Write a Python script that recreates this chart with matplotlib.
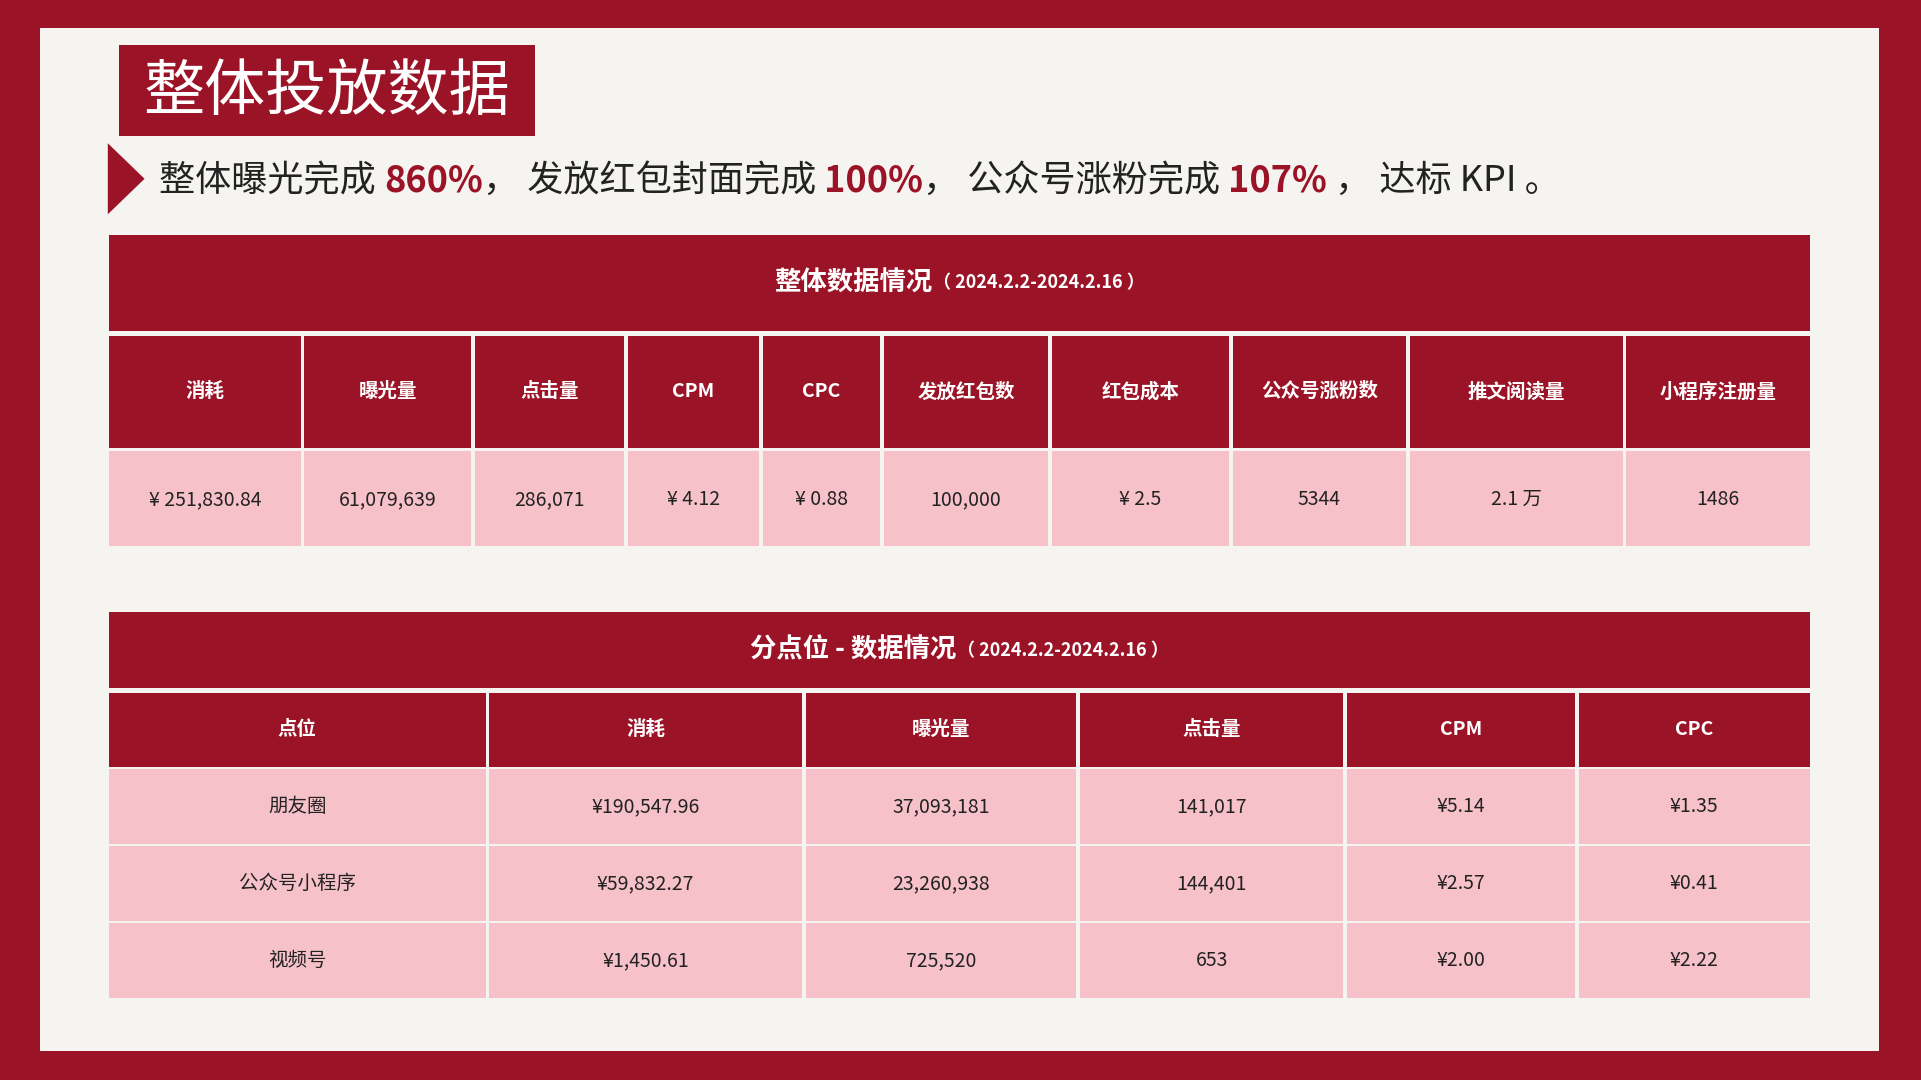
import matplotlib
matplotlib.use("Agg")
import matplotlib.pyplot as plt
from matplotlib.patches import Rectangle, Polygon

plt.rcParams['font.family'] = ['Noto Sans CJK SC', 'DejaVu Sans']

RED = '#9B1326'
PINK = '#F7C1C9'
BG = '#F6F4F0'

title = "整体投放数据"
sub_parts = [("整体曝光完成 ", False), ("860%", True), ("， 发放红包封面完成 ", False), ("100%", True),
             ("， 公众号涨粉完成 ", False), ("107%", True), (" ， 达标 KPI 。", False)]

t1_title = "整体数据情况"
t1_date = "（ 2024.2.2-2024.2.16 ）"
t1_cols = ["消耗", "曝光量", "点击量", "CPM", "CPC", "发放红包数", "红包成本", "公众号涨粉数", "推文阅读量", "小程序注册量"]
t1_vals = ["¥ 251,830.84", "61,079,639", "286,071", "¥ 4.12", "¥ 0.88", "100,000", "¥ 2.5", "5344", "2.1 万", "1486"]

t2_title = "分点位 - 数据情况"
t2_date = "（ 2024.2.2-2024.2.16 ）"
t2_cols = ["点位", "消耗", "曝光量", "点击量", "CPM", "CPC"]
t2_rows = [["朋友圈", "¥190,547.96", "37,093,181", "141,017", "¥5.14", "¥1.35"],
           ["公众号小程序", "¥59,832.27", "23,260,938", "144,401", "¥2.57", "¥0.41"],
           ["视频号", "¥1,450.61", "725,520", "653", "¥2.00", "¥2.22"]]

W, H = 1568, 882
fig = plt.figure(figsize=(19.21, 10.8), dpi=100)
fig.patch.set_facecolor(RED)
ax = fig.add_axes([0, 0, 1, 1])
ax.set_xlim(0, W); ax.set_ylim(H, 0); ax.axis('off')

def rect(x0, y0, x1, y1, c):
    ax.add_patch(Rectangle((x0, y0), x1 - x0, y1 - y0, color=c, lw=0))

rect(33, 23, 1534, 858, BG)
rect(97, 37, 437, 111, RED)
ax.text(267, 76, title, color='white', fontsize=44, ha='center', va='center')
ax.add_patch(Polygon([[88, 117], [118, 146], [88, 175]], color=RED, lw=0))

fig.canvas.draw()
r = fig.canvas.get_renderer()
x = 130
for s, hl in sub_parts:
    t = ax.text(x, 148, s, fontsize=26, color=RED if hl else '#222222',
                fontweight='bold' if hl else 'normal', ha='left', va='center')
    bb = t.get_window_extent(r)
    x += bb.width * W / fig.bbox.width

def title_bar(y0, y1, main, date):
    rect(89, y0, 1477, y1, RED)
    yc = (y0 + y1) / 2
    t1 = ax.text(0, yc, main, fontsize=19, color='white', fontweight='bold', ha='left', va='center')
    t2 = ax.text(0, yc, date, fontsize=13, color='white', fontweight='bold', ha='left', va='center')
    w1 = t1.get_window_extent(r).width * W / fig.bbox.width
    w2 = t2.get_window_extent(r).width * W / fig.bbox.width
    xs = (89 + 1477) / 2 - (w1 + w2) / 2
    t1.set_x(xs); t2.set_x(xs + w1)

g = 1.5
title_bar(192, 270, t1_title, t1_date)
b1 = [89, 247, 386, 511, 621, 720, 857, 1005, 1149, 1326, 1477]
for i in range(len(t1_cols)):
    x0, x1 = b1[i] + (g if i else 0), b1[i + 1] - (g if i < len(t1_cols) - 1 else 0)
    rect(x0, 274, x1, 366, RED)
    ax.text((x0 + x1) / 2, 320, t1_cols[i], fontsize=14, color='white', fontweight='bold', ha='center', va='center')
    rect(x0, 368, x1, 446, PINK)
    ax.text((x0 + x1) / 2, 408, t1_vals[i], fontsize=14, color='#222222', ha='center', va='center')

title_bar(500, 562, t2_title, t2_date)
b2 = [89, 398, 656, 880, 1098, 1287, 1477]
rows_y = [(566, 626), (628, 689), (691, 752), (754, 815)]
for j, (y0, y1) in enumerate(rows_y):
    for i in range(len(t2_cols)):
        x0, x1 = b2[i] + (g if i else 0), b2[i + 1] - (g if i < len(t2_cols) - 1 else 0)
        if j == 0:
            rect(x0, y0, x1, y1, RED)
            ax.text((x0 + x1) / 2, (y0 + y1) / 2, t2_cols[i], fontsize=14, color='white', fontweight='bold', ha='center', va='center')
        else:
            rect(x0, y0, x1, y1, PINK)
            ax.text((x0 + x1) / 2, (y0 + y1) / 2, t2_rows[j - 1][i], fontsize=14, color='#222222', ha='center', va='center')

fig.savefig("out.png", dpi=100, facecolor=RED)
